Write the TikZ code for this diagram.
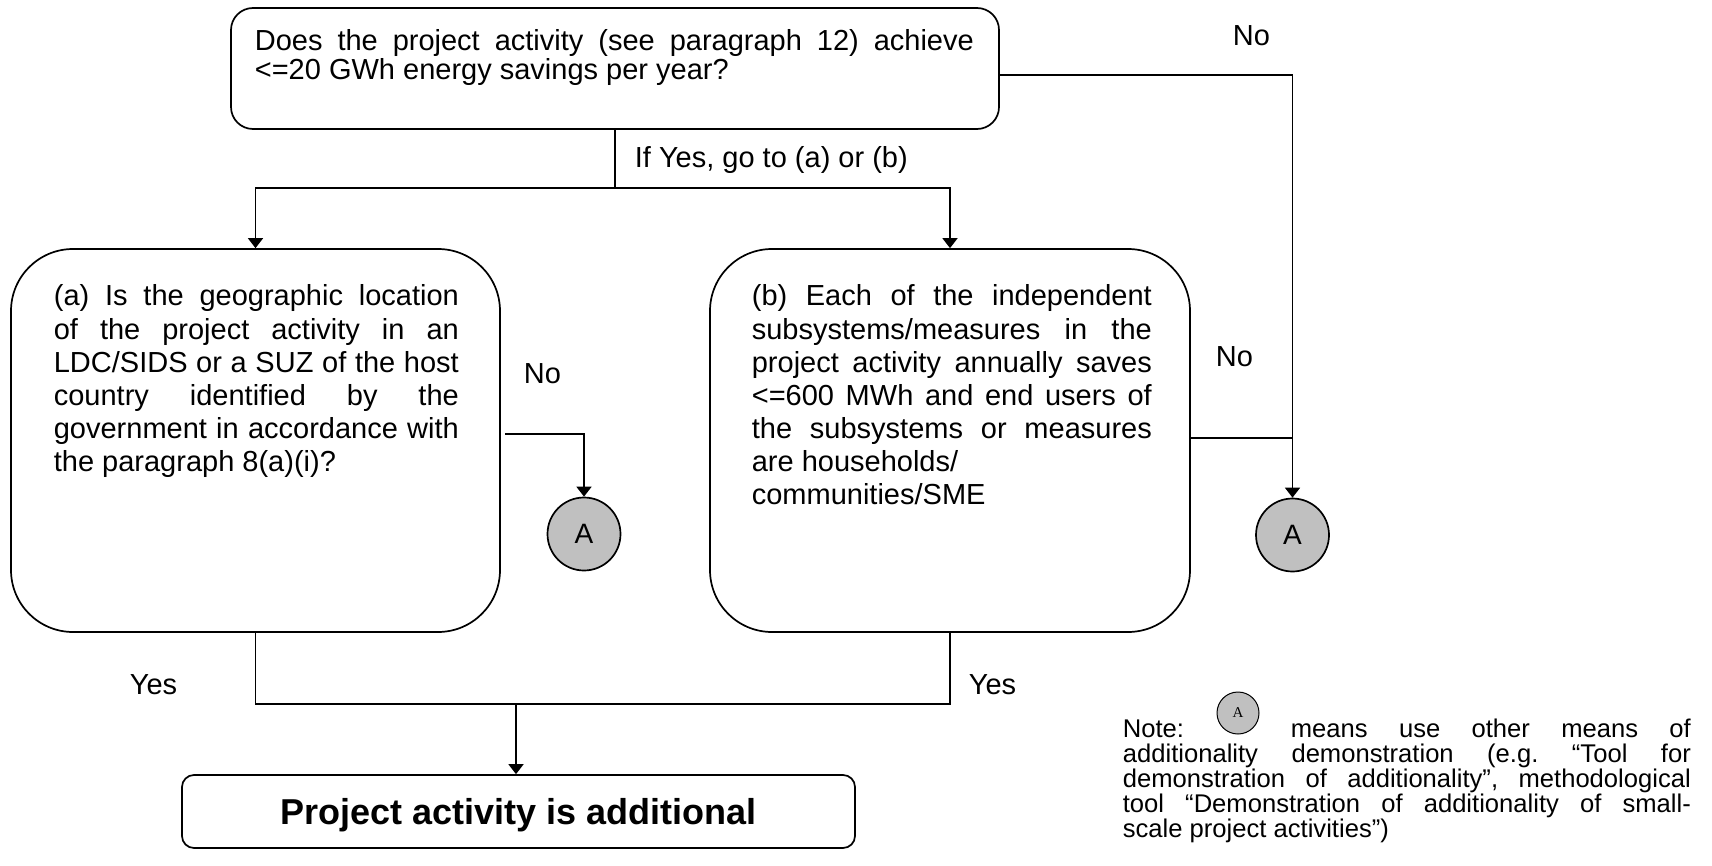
\documentclass[tikz,border=0pt]{standalone}
\usepackage{fontspec}
\setmainfont{Liberation Sans}
\newfontfamily\noteserif{Liberation Serif}
\usetikzlibrary{arrows.meta}
\definecolor{circgray}{HTML}{C0C0C0}
\newcommand{\jl}[2]{\makebox[#1][s]{#2}}
\frenchspacing

\begin{document}
\frenchspacing
\begin{tikzpicture}[x=0.5pt,y=-0.5pt,
  line width=0.85pt,
  arr/.style={-{Triangle[width=7.5pt,length=5pt]}},
  box/.style={draw, rectangle, inner sep=0pt},
  txt/.style={anchor=base west, inner sep=0pt, font=\fontsize{14.5}{17}\selectfont},
  ntxt/.style={anchor=base west, inner sep=0pt, font=\fontsize{12.8}{12.5}\selectfont},
  conn/.style={draw, circle, fill=circgray, inner sep=0pt, minimum size=36.5pt, font=\fontsize{14}{16}\selectfont}]

\useasboundingbox (0,0) rectangle (1712,866);

% boxes
\node[box, rounded corners=11pt, minimum width=384pt, minimum height=60.5pt] (top) at (615,68.5) {};
\node[box, rounded corners=31pt, minimum width=244.5pt, minimum height=191.5pt] (boxa) at (255.5,440.5) {};
\node[box, rounded corners=31pt, minimum width=240pt, minimum height=191.5pt] (boxb) at (950,440.5) {};
\node[box, rounded corners=6pt, minimum width=336.5pt, minimum height=36.5pt] (final) at (518.5,811.5) {};
\node[anchor=base, inner sep=0pt, font=\bfseries\fontsize{18}{20}\selectfont] (finaltxt) at (518.5,824) {Project activity is additional};

% connector circles
\node[conn] (cA) at (584,534) {A};
\node[conn] (cB) at (1292.5,535) {A};

% connectors
\coordinate (split) at (615,188);
\draw (top.south) -- (split);
\draw[arr] (split) -| (boxa.north);
\draw[arr] (split) -| (boxb.north);
\draw[arr] (top.east |- 0,75) -| (cB.north);
\coordinate (noA) at (505,434);
\draw[arr] (noA) -| (cA.north);
\draw (boxb.east |- 0,438) -- (cB.north |- 0,438);
\coordinate (merge) at (516,704);
\draw (boxa.south) |- (merge);
\draw (boxb.south) |- (merge);
\draw[arr] (merge) -- (merge |- final.north);

% labels
\node[txt] (noTop) at (1232,46) {No};
\node[txt] (ifyes) at (634,168) {If Yes, go to (a) or (b)};
\node[txt] (noa) at (523,383) {No};
\node[txt] (nob) at (1215,366) {No};
\node[txt] (yesa) at (129,694) {Yes};
\node[txt] (yesb) at (968,694) {Yes};

% top box text
\node[txt] (t1) at (254,51) {\jl{359.5pt}{Does the project activity (see paragraph 12) achieve}};
\node[txt] (t2) at (254,80) {<=20 GWh energy savings per year?};

% box (a) text
\node[txt] (a1) at (53,306) {\jl{202.5pt}{(a) Is the geographic location}};
\node[txt] (a2) at (53,339) {\jl{202.5pt}{of the project activity in an}};
\node[txt] (a3) at (53,372) {\jl{202.5pt}{LDC/SIDS or a SUZ of the host}};
\node[txt] (a4) at (53,405) {\jl{202.5pt}{country identified by the}};
\node[txt] (a5) at (53,438) {\jl{202.5pt}{government in accordance with}};
\node[txt] (a6) at (53,471) {the paragraph 8(a)(i)?};

% box (b) text
\node[txt] (b1) at (751,306) {\jl{200pt}{(b) Each of the independent}};
\node[txt] (b2) at (751,339) {\jl{200pt}{subsystems/measures in the}};
\node[txt] (b3) at (751,372) {\jl{200pt}{project activity annually saves}};
\node[txt] (b4) at (751,405) {\jl{200pt}{<=600 MWh and end users of}};
\node[txt] (b5) at (751,438) {\jl{200pt}{the subsystems or measures}};
\node[txt] (b6) at (751,471) {are households/};
\node[txt] (b7) at (751,504) {communities/SME};

% note
\node[ntxt] (n0) at (1122,737) {Note:};
\node[draw, circle, fill=circgray, line width=0.5pt, minimum size=21pt, inner sep=0pt, font=\noteserif\fontsize{7.5}{8}\selectfont] (noteA) at (1238,713) {A};
\node[ntxt] (n1) at (1290,737) {\jl{200pt}{means use other means of}};
\node[ntxt] (n2) at (1122,762) {\jl{284pt}{additionality demonstration (e.g. “Tool for}};
\node[ntxt] (n3) at (1122,787) {\jl{284pt}{demonstration of additionality”, methodological}};
\node[ntxt] (n4) at (1122,812) {\jl{284pt}{tool “Demonstration of additionality of small-}};
\node[ntxt] (n5) at (1122,837) {scale project activities”)};
\end{tikzpicture}
\end{document}
